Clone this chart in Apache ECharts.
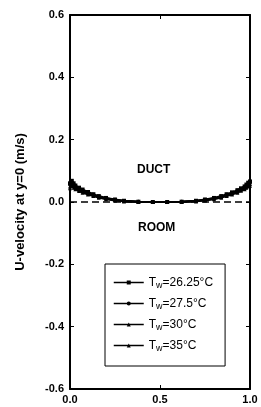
<!DOCTYPE html>
<html>
<head>
<meta charset="utf-8">
<script src="https://cdn.jsdelivr.net/npm/echarts@6/dist/echarts.min.js"></script>
<style>
  html, body { margin: 0; padding: 0; background: #fff; }
  #chart { width: 261px; height: 407px; }
</style>
</head>
<body>
<div id="chart"></div>
<script>
// x position along the opening (x / L)
const xPos = [0, 0.01, 0.02, 0.03, 0.05, 0.07, 0.1, 0.13, 0.16, 0.2, 0.25, 0.3, 0.38, 0.46,
  0.54, 0.62, 0.7, 0.75, 0.8, 0.84, 0.87, 0.9, 0.93, 0.95, 0.97, 0.98, 0.99, 1.0];

// U-velocity (m/s) for each wall temperature
const u2625 = [0.060, 0.068, 0.060, 0.053, 0.046, 0.040, 0.032, 0.025, 0.019, 0.013, 0.008, 0.004, 0.001, 0.000,
  0.000, 0.001, 0.004, 0.008, 0.013, 0.019, 0.025, 0.031, 0.038, 0.044, 0.050, 0.056, 0.062, 0.066];
const u275 = [0.056, 0.063, 0.056, 0.049, 0.043, 0.037, 0.029, 0.023, 0.017, 0.012, 0.007, 0.003, 0.001, 0.000,
  0.000, 0.001, 0.003, 0.007, 0.012, 0.017, 0.023, 0.029, 0.036, 0.042, 0.048, 0.053, 0.058, 0.062];
const u30 = [0.050, 0.058, 0.051, 0.045, 0.039, 0.034, 0.027, 0.021, 0.016, 0.011, 0.006, 0.003, 0.001, 0.000,
  0.000, 0.001, 0.003, 0.006, 0.011, 0.016, 0.021, 0.027, 0.033, 0.039, 0.045, 0.050, 0.054, 0.058];
const u35 = [0.044, 0.052, 0.046, 0.041, 0.035, 0.030, 0.024, 0.019, 0.014, 0.009, 0.005, 0.002, 0.000, 0.000,
  0.000, 0.000, 0.002, 0.005, 0.009, 0.014, 0.019, 0.024, 0.030, 0.036, 0.041, 0.046, 0.050, 0.052];

const seriesNames = ['26.25°C', '27.5°C', '30°C', '35°C'];
const seriesData = [u2625, u275, u30, u35];
const symbols = ['rect', 'circle', 'triangle', 'triangle'];

const yTicks = [-0.6, -0.4, -0.2, 0.0, 0.2, 0.4, 0.6];
const xTicks = [0.0, 0.5, 1.0];

const chart = echarts.init(document.getElementById('chart'), null, { renderer: 'canvas' });

const font = 'Liberation Sans, Arial, sans-serif';

const series = seriesData.map((arr, i) => ({
  name: seriesNames[i],
  type: 'line',
  data: xPos.map((x, k) => [x, arr[k]]),
  symbol: symbols[i],
  symbolSize: 4,
  showSymbol: true,
  lineStyle: { color: '#000', width: 2 },
  itemStyle: { color: '#000' },
  silent: true,
  z: 3
}));

// dashed zero line
series.push({
  name: 'zero',
  type: 'line',
  data: [[0, 0], [1, 0]],
  symbol: 'none',
  lineStyle: { color: '#000', width: 1.3, type: [7, 4] },
  silent: true,
  z: 2
});

const axisLine = { show: true, onZero: false, lineStyle: { color: '#000', width: 2 } };
const axisTick = { show: true, inside: true, length: 4, lineStyle: { color: '#000' } };

chart.setOption({
  backgroundColor: '#fff',
  animation: false,
  grid: { left: 70, right: 11, top: 15, bottom: 18 },
  xAxis: [{
    type: 'value',
    min: 0, max: 1, interval: 0.5,
    axisLine: axisLine,
    axisTick: axisTick,
    axisLabel: {
      color: '#000', fontFamily: font, fontWeight: 'bold', fontSize: 11, margin: 5,
      formatter: v => xTicks.includes(v) ? v.toFixed(1) : ''
    },
    splitLine: { show: false }
  }, {
    type: 'value', position: 'top',
    min: 0, max: 1, interval: 0.5,
    axisLine: axisLine,
    axisTick: axisTick,
    axisLabel: { show: false },
    splitLine: { show: false }
  }],
  yAxis: [{
    type: 'value',
    min: -0.6, max: 0.6, interval: 0.2,
    name: 'U-velocity at y=0 (m/s)',
    nameLocation: 'middle',
    nameGap: 43,
    nameTextStyle: { color: '#000', fontFamily: font, fontWeight: 'bold', fontSize: 13 },
    axisLine: axisLine,
    axisTick: axisTick,
    axisLabel: {
      color: '#000', fontFamily: font, fontWeight: 'bold', fontSize: 11, margin: 6,
      formatter: v => {
        const t = yTicks.find(y => Math.abs(y - v) < 1e-6);
        return t === undefined ? '' : t.toFixed(1);
      }
    },
    splitLine: { show: false }
  }, {
    type: 'value', position: 'right',
    min: -0.6, max: 0.6, interval: 0.2,
    axisLine: axisLine,
    axisTick: axisTick,
    axisLabel: { show: false },
    splitLine: { show: false }
  }],
  legend: {
    data: seriesNames,
    orient: 'vertical',
    left: 105,
    top: 264,
    padding: [11, 12, 13, 8],
    itemGap: 6,
    itemWidth: 30,
    itemHeight: 5,
    borderColor: '#000',
    borderWidth: 1,
    backgroundColor: '#fff',
    selectedMode: false,
    itemStyle: { borderWidth: 0 },
    lineStyle: { width: 1.5 },
    textStyle: {
      color: '#000', fontFamily: font, fontSize: 12, lineHeight: 15,
      rich: {
        t: { fontFamily: font, fontSize: 12, color: '#000' },
        s: { fontFamily: font, fontSize: 9, color: '#000', verticalAlign: 'bottom', padding: [6, 0, 0, 0] }
      }
    },
    formatter: name => '{t|T}{s|w}{t|=' + name + '}'
  },
  graphic: [
    { type: 'text', left: 137, top: 164, style: { text: 'DUCT', fill: '#000', font: 'bold 12px ' + font } },
    { type: 'text', left: 138, top: 222, style: { text: 'ROOM', fill: '#000', font: 'bold 12px ' + font } }
  ],
  series: series
});
</script>
</body>
</html>
